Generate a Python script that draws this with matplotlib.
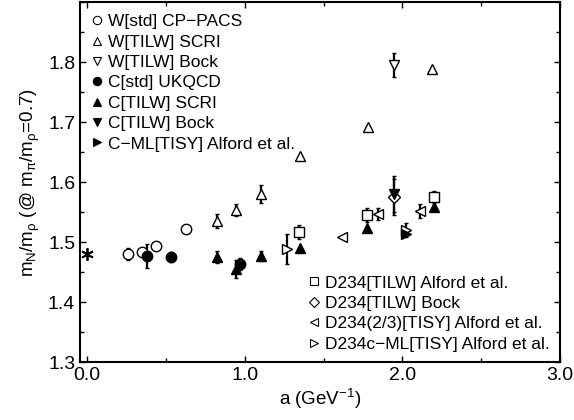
import numpy as np
import matplotlib.pyplot as plt
from matplotlib.ticker import MultipleLocator, FormatStrFormatter
from matplotlib.lines import Line2D

plt.rcParams['font.family'] = ['Liberation Sans', 'DejaVu Sans']
plt.rcParams['mathtext.fontset'] = 'custom'
plt.rcParams['mathtext.rm'] = 'Liberation Sans'
plt.rcParams['mathtext.it'] = 'Liberation Sans'

# data: (a, mN/mrho, error)
w_std_cppacs_x = [0.26, 0.35, 0.44, 0.63]
w_std_cppacs_y = [1.480, 1.483, 1.493, 1.522]
w_std_cppacs_e = [0.010, 0.0, 0.0, 0.0]

w_tilw_scri_x = [0.825, 0.945, 1.10, 1.35, 1.78, 2.19]
w_tilw_scri_y = [1.535, 1.553, 1.580, 1.643, 1.692, 1.788]
w_tilw_scri_e = [0.012, 0.010, 0.015, 0.0, 0.0, 0.0]

w_tilw_bock_x = [1.95]
w_tilw_bock_y = [1.795]
w_tilw_bock_e = [0.020]

c_std_ukqcd_x = [0.38, 0.53, 0.97]
c_std_ukqcd_y = [1.477, 1.475, 1.463]
c_std_ukqcd_e = [0.020, 0.008, 0.010]

c_tilw_scri_x = [0.825, 0.945, 1.10, 1.35, 1.775, 2.20]
c_tilw_scri_y = [1.475, 1.455, 1.477, 1.490, 1.523, 1.558]
c_tilw_scri_e = [0.010, 0.015, 0.008, 0.0, 0.0, 0.0]

c_tilw_bock_x = [1.95]
c_tilw_bock_y = [1.580]
c_tilw_bock_e = [0.030]

cml_tisy_alford_x = [2.02]
cml_tisy_alford_y = [1.513]
cml_tisy_alford_e = [0.0]

d234_tilw_alford_x = [1.345, 1.775, 2.20]
d234_tilw_alford_y = [1.517, 1.545, 1.575]
d234_tilw_alford_e = [0.012, 0.012, 0.010]

d234_tilw_bock_x = [1.95]
d234_tilw_bock_y = [1.575]
d234_tilw_bock_e = [0.030]

d234_23_tisy_x = [1.62, 1.845, 2.11]
d234_23_tisy_y = [1.508, 1.547, 1.552]
d234_23_tisy_e = [0.0, 0.010, 0.012]

d234c_ml_tisy_x = [1.268, 2.02]
d234c_ml_tisy_y = [1.488, 1.520]
d234c_ml_tisy_e = [0.025, 0.012]

cont_x = [0.0]
cont_y = [1.480]

fig = plt.figure(figsize=(5.74, 4.20), dpi=100)
ax = fig.add_axes([0.1394, 0.138, 0.8362, 0.857])

ms = 7.5
mew = 1.0
eb = dict(ecolor='black', elinewidth=1.6, capsize=1.5, capthick=1.6, linestyle='none')

def series(x, y, e, marker, filled, size=ms):
    fc = 'black' if filled else 'white'
    ax.errorbar(x, y, yerr=e, marker=marker, ms=size, mfc=fc, mec='black', mew=mew, **eb)

series(w_std_cppacs_x, w_std_cppacs_y, w_std_cppacs_e, 'o', False)
series(w_tilw_scri_x, w_tilw_scri_y, w_tilw_scri_e, '^', False)
series(w_tilw_bock_x, w_tilw_bock_y, w_tilw_bock_e, 'v', False)
series(d234_tilw_alford_x, d234_tilw_alford_y, d234_tilw_alford_e, 's', False, 6.5)
series(d234_tilw_bock_x, d234_tilw_bock_y, d234_tilw_bock_e, 'D', False, 6)
series(d234_23_tisy_x, d234_23_tisy_y, d234_23_tisy_e, '<', False)
series(d234c_ml_tisy_x, d234c_ml_tisy_y, d234c_ml_tisy_e, '>', False)
series(c_std_ukqcd_x, c_std_ukqcd_y, c_std_ukqcd_e, 'o', True)
series(c_tilw_scri_x, c_tilw_scri_y, c_tilw_scri_e, '^', True)
series(c_tilw_bock_x, c_tilw_bock_y, c_tilw_bock_e, 'v', True)
series(cml_tisy_alford_x, cml_tisy_alford_y, cml_tisy_alford_e, '>', True)
ax.plot(cont_x, cont_y, marker=(6, 2, 0), ms=9, mew=1.3, color='black', linestyle='none')

ax.set_xlim(-0.045, 3.0)
ax.set_ylim(1.3, 1.9)
ax.xaxis.set_major_locator(MultipleLocator(1.0))
ax.xaxis.set_minor_locator(MultipleLocator(0.5))
ax.yaxis.set_major_locator(MultipleLocator(0.1))
ax.yaxis.set_minor_locator(MultipleLocator(0.05))
ax.xaxis.set_major_formatter(FormatStrFormatter('%.1f'))
ax.yaxis.set_major_formatter(FormatStrFormatter('%.1f'))
ax.set_yticks([1.3, 1.4, 1.5, 1.6, 1.7, 1.8])
ax.tick_params(which='both', direction='in', top=True, right=True, labelsize=14, width=1.0)
ax.tick_params(which='major', length=4)
ax.tick_params(which='minor', length=3)
for s in ax.spines.values():
    s.set_linewidth(1.5)

ax.set_xlabel(r'a (GeV$^{-1}$)', fontsize=13.5, labelpad=2)
ax.set_ylabel(r'm$_{\rm N}$/m$_\rho$ (@ m$_\pi$/m$_\rho$=0.7)', fontsize=13.5)

def h(marker, filled, size=6):
    return Line2D([], [], marker=marker, ms=size, mfc='black' if filled else 'white',
                  mec='black', mew=0.8, linestyle='none')

leg1 = ax.legend([h('o', False), h('^', False), h('v', False), h('o', True),
                  h('^', True), h('v', True), h('>', True)],
                 ['W[std] CP\u2212PACS', 'W[TILW] SCRI', 'W[TILW] Bock', 'C[std] UKQCD',
                  'C[TILW] SCRI', 'C[TILW] Bock', 'C\u2212ML[TISY] Alford et al.'],
                 loc='upper left', frameon=False, fontsize=12.5, handlelength=0.6,
                 handletextpad=0.3, labelspacing=0.3, borderaxespad=0.3)
ax.add_artist(leg1)
ax.legend([h('s', False, 5.5), h('D', False, 4.8), h('<', False), h('>', False)],
          ['D234[TILW] Alford et al.', 'D234[TILW] Bock', 'D234(2/3)[TISY] Alford et al.',
           'D234c\u2212ML[TISY] Alford et al.'],
          loc='lower right', frameon=False, fontsize=12.5,
          handlelength=0.6, handletextpad=0.3, labelspacing=0.3, borderaxespad=0.2)

fig.savefig('out.png', dpi=100)
